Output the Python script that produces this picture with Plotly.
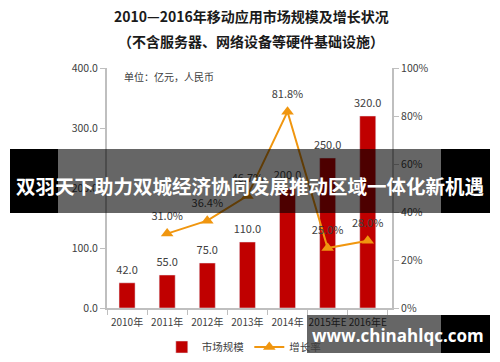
import plotly.graph_objects as go

years = ["2010年", "2011年", "2012年", "2013年", "2014年", "2015年E", "2016年E"]
market_size = [42.0, 55.0, 75.0, 110.0, 200.0, 250.0, 320.0]
growth_years = ["2011年", "2012年", "2013年", "2014年", "2015年E", "2016年E"]
growth_rate = [0.310, 0.364, 0.467, 0.818, 0.250, 0.280]

title1 = "2010—2016年移动应用市场规模及增长状况"
title2 = "（不含服务器、网络设备等硬件基础设施）"
unit_note = "单位：亿元，人民币"
banner_text = "双羽天下助力双城经济协同发展推动区域一体化新机遇"
watermark = "www.chinahlqc.com"

FONT = "Noto Sans CJK SC, Noto Sans, sans-serif"
TXT = "#404040"
RED = "#C00000"
ORANGE = "#F0960F"
AXIS = "#BFBFBF"

fig = go.Figure()
fig.add_trace(go.Bar(
    x=years, y=market_size, name="市场规模", marker_color=RED,
    width=0.4, yaxis="y"))
fig.add_trace(go.Scatter(
    x=years, y=market_size, mode="markers+text",
    text=[f"{v:.1f}" for v in market_size], textposition="top center",
    textfont=dict(size=11, color=TXT, family=FONT),
    marker=dict(size=8, color="rgba(0,0,0,0)"), showlegend=False,
    hoverinfo="skip", yaxis="y"))
fig.add_trace(go.Scatter(
    x=growth_years, y=growth_rate, name="增长率", mode="lines+markers",
    line=dict(color=ORANGE, width=2),
    marker=dict(symbol="triangle-up", size=11, color=ORANGE),
    yaxis="y2"))
fig.add_trace(go.Scatter(
    x=growth_years, y=growth_rate, mode="markers+text",
    text=[f"{v*100:.1f}%" for v in growth_rate], textposition="top center",
    textfont=dict(size=11, color=TXT, family=FONT),
    marker=dict(size=16, color="rgba(0,0,0,0)"), showlegend=False,
    hoverinfo="skip", yaxis="y2"))

fig.update_layout(
    width=500, height=362,
    margin=dict(l=107, r=108, t=68, b=54, autoexpand=False),
    paper_bgcolor="white", plot_bgcolor="white",
    font=dict(family=FONT, color=TXT, size=10.5),
    xaxis=dict(
        type="category", showline=True, linecolor=AXIS, linewidth=2,
        ticks="outside", tickson="boundaries", ticklen=5, tickcolor=AXIS,
        tickangle=0, automargin=False, ticklabelstandoff=4,
        tickfont=dict(size=10, color=TXT), showgrid=False, zeroline=False),
    yaxis=dict(
        range=[0, 400], dtick=100, tickformat=".1f", showline=True,
        linecolor=AXIS, linewidth=2, ticks="outside", ticklen=5,
        tickcolor=AXIS, showgrid=False, zeroline=False, automargin=False,
        tickfont=dict(size=10.5, color=TXT)),
    yaxis2=dict(
        range=[0, 1], dtick=0.2, tickformat=".0%", overlaying="y",
        side="right", showline=True, linecolor=AXIS, linewidth=2,
        ticks="outside", ticklen=5, tickcolor=AXIS, showgrid=False,
        zeroline=False, automargin=False,
        tickfont=dict(size=10.5, color=TXT)),
    legend=dict(orientation="h", x=0.48, xanchor="center", y=-0.1625,
                yanchor="middle", font=dict(size=10.5, color=TXT),
                bgcolor="rgba(0,0,0,0)"),
    showlegend=True,
)

def px_x(p):
    return (p - 107) / 285

def px_y(p):
    return (308 - p) / 240

annots = [
    dict(text=f"<b>{title1}</b>", x=px_x(251), y=px_y(16), font=dict(size=14, color="#1a1a1a")),
    dict(text=f"<b>{title2}</b>", x=px_x(251), y=px_y(41), font=dict(size=14, color="#1a1a1a")),
    dict(text=unit_note, x=px_x(122), y=px_y(76), xanchor="left", font=dict(size=10, color=TXT)),
]
for a in annots:
    a.setdefault("xanchor", "center")
    fig.add_annotation(xref="paper", yref="paper", showarrow=False, yanchor="middle", **a)

# overlay banner
shapes = [
    (10, 58, 149, 213, "black"),
    (58, 441, 149, 213, "rgba(0,0,0,0.6)"),
    (441, 490, 149, 213, "black"),
    (307, 441, 315, 353, "rgba(0,0,0,0.6)"),
    (441, 490, 315, 353, "black"),
]
for x0, x1, y0, y1, c in shapes:
    fig.add_shape(type="rect", xref="paper", yref="paper",
                  x0=px_x(x0), x1=px_x(x1), y0=px_y(y1), y1=px_y(y0),
                  fillcolor=c, line=dict(width=0), layer="above")

fig.add_annotation(xref="paper", yref="paper", x=px_x(250), y=px_y(185),
                   xanchor="center", yanchor="middle",
                   text=f"<b>{banner_text}</b>", showarrow=False,
                   font=dict(size=19.5, color="white", family=FONT))
fig.add_annotation(xref="paper", yref="paper", x=px_x(398), y=px_y(335),
                   xanchor="center", yanchor="middle",
                   text=f"<b>{watermark}</b>", showarrow=False,
                   font=dict(size=17, color="white", family="Open Sans, Noto Sans, sans-serif"))

fig.write_html("out.html", config={"displayModeBar": False},
               post_script="document.body.style.margin='0';document.body.style.overflow='hidden';")
